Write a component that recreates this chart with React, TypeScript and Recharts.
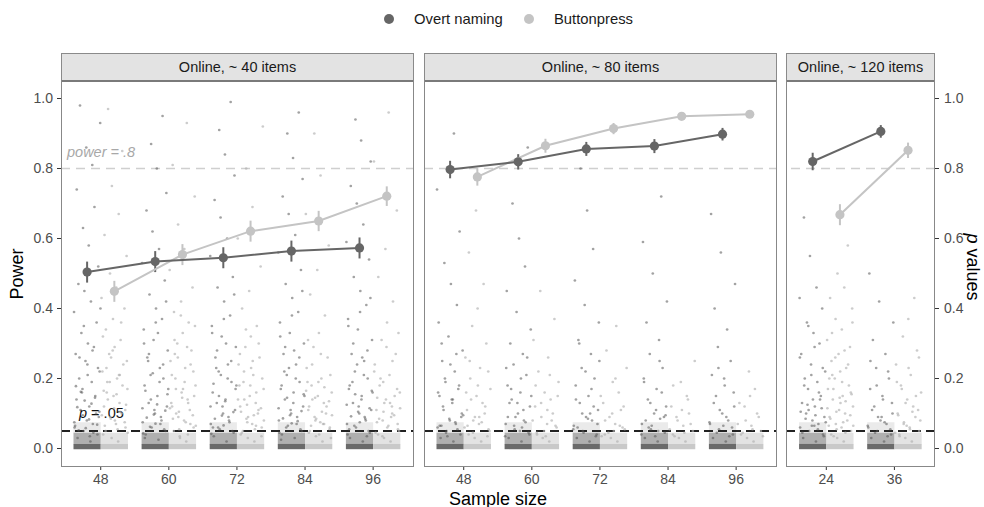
import React from 'react';
import { ComposedChart, Scatter, XAxis, YAxis, ReferenceLine, ReferenceArea, ErrorBar } from 'recharts';

// ---------- data ----------
const sizes40 = [48, 60, 72, 84, 96];
const sizes80 = [48, 60, 72, 84, 96];
const sizes120 = [24, 36];
const panelTitles = ['Online, ~ 40 items', 'Online, ~ 80 items', 'Online, ~ 120 items'];
const legendLabels = ['Overt naming', 'Buttonpress'];
const yTicks = [0, 0.2, 0.4, 0.6, 0.8, 1.0];

const powerNaming40 = [0.504, 0.534, 0.545, 0.564, 0.573];
const errNaming40 = [0.03, 0.03, 0.03, 0.03, 0.03];
const powerButton40 = [0.449, 0.554, 0.621, 0.65, 0.721];
const errButton40 = [0.03, 0.03, 0.03, 0.029, 0.028];

const powerNaming80 = [0.797, 0.819, 0.856, 0.864, 0.898];
const errNaming80 = [0.025, 0.022, 0.02, 0.02, 0.018];
const powerButton80 = [0.776, 0.865, 0.914, 0.949, 0.955];
const errButton80 = [0.025, 0.02, 0.016, 0.01, 0.008];

const powerNaming120 = [0.82, 0.906];
const errNaming120 = [0.025, 0.018];
const powerButton120 = [0.668, 0.852];
const errButton120 = [0.03, 0.022];

// hand-read p values of each jittered cloud (upper spread)
const pNaming40 = [
  [0.02, 0.03, 0.04, 0.05, 0.06, 0.07, 0.08, 0.09, 0.11, 0.12, 0.14, 0.15, 0.17, 0.19, 0.2, 0.22, 0.25, 0.27, 0.29, 0.3, 0.33, 0.36, 0.39, 0.42, 0.45, 0.47, 0.52, 0.58, 0.63, 0.69, 0.74, 0.81, 0.86, 0.93, 0.98, 0.035, 0.065, 0.1, 0.16, 0.24],
  [0.025, 0.04, 0.05, 0.06, 0.075, 0.09, 0.1, 0.12, 0.13, 0.15, 0.18, 0.2, 0.21, 0.23, 0.26, 0.28, 0.31, 0.34, 0.37, 0.4, 0.44, 0.48, 0.53, 0.57, 0.62, 0.68, 0.73, 0.8, 0.87, 0.95, 0.03, 0.07, 0.11, 0.17, 0.25, 0.33],
  [0.02, 0.035, 0.045, 0.055, 0.07, 0.08, 0.1, 0.11, 0.13, 0.14, 0.16, 0.19, 0.22, 0.24, 0.26, 0.29, 0.32, 0.35, 0.38, 0.42, 0.46, 0.49, 0.55, 0.6, 0.66, 0.71, 0.78, 0.84, 0.91, 0.99, 0.06, 0.09, 0.12, 0.18, 0.23, 0.3],
  [0.03, 0.04, 0.05, 0.065, 0.08, 0.09, 0.1, 0.12, 0.14, 0.16, 0.17, 0.19, 0.21, 0.24, 0.27, 0.3, 0.33, 0.36, 0.39, 0.43, 0.47, 0.51, 0.56, 0.61, 0.67, 0.72, 0.77, 0.83, 0.9, 0.96, 0.025, 0.07, 0.11, 0.15, 0.22, 0.28],
  [0.02, 0.03, 0.045, 0.06, 0.07, 0.085, 0.1, 0.11, 0.13, 0.15, 0.17, 0.2, 0.22, 0.25, 0.27, 0.31, 0.34, 0.37, 0.41, 0.45, 0.49, 0.54, 0.59, 0.64, 0.7, 0.75, 0.82, 0.88, 0.94, 0.035, 0.055, 0.09, 0.12, 0.16, 0.19, 0.26],
];
const pButton40 = [
  [0.02, 0.03, 0.05, 0.06, 0.07, 0.09, 0.1, 0.12, 0.13, 0.15, 0.17, 0.19, 0.2, 0.22, 0.24, 0.27, 0.29, 0.31, 0.34, 0.37, 0.4, 0.43, 0.46, 0.5, 0.55, 0.61, 0.67, 0.75, 0.85, 0.97, 0.04, 0.08, 0.11, 0.16, 0.21, 0.26],
  [0.02, 0.035, 0.05, 0.06, 0.08, 0.09, 0.11, 0.12, 0.14, 0.16, 0.18, 0.2, 0.23, 0.25, 0.28, 0.3, 0.33, 0.36, 0.39, 0.42, 0.46, 0.51, 0.57, 0.64, 0.72, 0.81, 0.93, 0.03, 0.07, 0.1, 0.13, 0.17, 0.22, 0.27],
  [0.02, 0.03, 0.045, 0.06, 0.07, 0.085, 0.1, 0.12, 0.13, 0.15, 0.17, 0.19, 0.21, 0.24, 0.26, 0.29, 0.32, 0.35, 0.4, 0.45, 0.52, 0.6, 0.69, 0.8, 0.92, 0.04, 0.055, 0.09, 0.11, 0.14, 0.18, 0.23],
  [0.02, 0.035, 0.05, 0.06, 0.075, 0.09, 0.1, 0.11, 0.13, 0.15, 0.16, 0.18, 0.2, 0.23, 0.26, 0.29, 0.33, 0.38, 0.44, 0.51, 0.58, 0.67, 0.78, 0.9, 0.03, 0.045, 0.07, 0.085, 0.12, 0.14, 0.19],
  [0.02, 0.03, 0.04, 0.055, 0.065, 0.08, 0.095, 0.11, 0.12, 0.14, 0.16, 0.18, 0.21, 0.24, 0.27, 0.31, 0.36, 0.42, 0.49, 0.57, 0.68, 0.82, 0.96, 0.035, 0.05, 0.075, 0.09, 0.13, 0.15, 0.2],
];
const pNaming80 = [
  [0.02, 0.03, 0.04, 0.05, 0.06, 0.07, 0.08, 0.1, 0.11, 0.13, 0.15, 0.17, 0.19, 0.22, 0.25, 0.28, 0.32, 0.36, 0.41, 0.47, 0.53, 0.62, 0.74, 0.9, 0.035, 0.065, 0.09, 0.14],
  [0.02, 0.03, 0.045, 0.055, 0.07, 0.08, 0.1, 0.12, 0.14, 0.16, 0.18, 0.21, 0.24, 0.27, 0.3, 0.34, 0.39, 0.45, 0.52, 0.6, 0.7, 0.86, 0.035, 0.06, 0.09, 0.13],
  [0.02, 0.03, 0.04, 0.05, 0.065, 0.08, 0.09, 0.11, 0.13, 0.15, 0.18, 0.2, 0.23, 0.27, 0.31, 0.36, 0.41, 0.48, 0.57, 0.68, 0.8, 0.035, 0.055, 0.1],
  [0.02, 0.03, 0.045, 0.055, 0.07, 0.085, 0.1, 0.12, 0.14, 0.17, 0.2, 0.23, 0.27, 0.31, 0.36, 0.42, 0.5, 0.59, 0.72, 0.035, 0.06, 0.09],
  [0.02, 0.03, 0.04, 0.055, 0.07, 0.08, 0.1, 0.12, 0.15, 0.18, 0.21, 0.25, 0.29, 0.34, 0.4, 0.47, 0.56, 0.67, 0.035, 0.065],
];
const pButton80 = [
  [0.02, 0.03, 0.04, 0.055, 0.07, 0.08, 0.1, 0.11, 0.13, 0.15, 0.17, 0.2, 0.23, 0.26, 0.3, 0.35, 0.4, 0.47, 0.56, 0.68, 0.035, 0.06, 0.09],
  [0.02, 0.03, 0.045, 0.06, 0.07, 0.09, 0.1, 0.12, 0.14, 0.16, 0.19, 0.22, 0.26, 0.31, 0.37, 0.45, 0.035, 0.08],
  [0.02, 0.03, 0.04, 0.055, 0.07, 0.09, 0.11, 0.13, 0.16, 0.19, 0.23, 0.28, 0.35, 0.035, 0.06],
  [0.02, 0.03, 0.04, 0.05, 0.065, 0.08, 0.1, 0.12, 0.15, 0.19, 0.25, 0.035],
  [0.02, 0.03, 0.04, 0.05, 0.065, 0.08, 0.1, 0.13, 0.17, 0.22, 0.035],
];
const pNaming120 = [
  [0.02, 0.03, 0.04, 0.05, 0.06, 0.07, 0.08, 0.09, 0.1, 0.12, 0.13, 0.15, 0.17, 0.19, 0.2, 0.22, 0.24, 0.27, 0.3, 0.33, 0.36, 0.4, 0.43, 0.46, 0.55, 0.66, 0.035, 0.065, 0.11, 0.14],
  [0.02, 0.03, 0.04, 0.05, 0.06, 0.07, 0.08, 0.1, 0.12, 0.14, 0.17, 0.2, 0.23, 0.27, 0.31, 0.36, 0.42, 0.5, 0.035, 0.09],
];
const pButton120 = [
  [0.02, 0.03, 0.04, 0.05, 0.06, 0.07, 0.08, 0.09, 0.1, 0.11, 0.12, 0.14, 0.15, 0.17, 0.18, 0.2, 0.22, 0.23, 0.25, 0.27, 0.29, 0.31, 0.34, 0.37, 0.4, 0.43, 0.46, 0.5, 0.58, 0.035, 0.065, 0.13, 0.16, 0.21],
  [0.02, 0.03, 0.04, 0.05, 0.06, 0.075, 0.09, 0.1, 0.12, 0.14, 0.16, 0.18, 0.21, 0.24, 0.28, 0.32, 0.37, 0.43, 0.035, 0.065, 0.11],
];

// hand-read p values of the denser lower part of each cloud
const lowNaming40 = [
  [0.045, 0.052, 0.058, 0.068, 0.075, 0.083, 0.095, 0.105, 0.118, 0.128, 0.137, 0.145, 0.162, 0.178, 0.21, 0.23, 0.26, 0.28, 0.35, 0.4],
  [0.043, 0.055, 0.062, 0.071, 0.08, 0.088, 0.097, 0.108, 0.115, 0.126, 0.14, 0.155, 0.165, 0.19, 0.215, 0.24, 0.27, 0.3, 0.36, 0.42],
  [0.042, 0.05, 0.06, 0.066, 0.075, 0.085, 0.094, 0.104, 0.12, 0.135, 0.15, 0.17, 0.185, 0.2, 0.21, 0.25, 0.28, 0.33, 0.37, 0.44],
  [0.045, 0.055, 0.06, 0.072, 0.078, 0.086, 0.095, 0.107, 0.115, 0.13, 0.145, 0.155, 0.18, 0.2, 0.23, 0.26, 0.29, 0.32, 0.38, 0.45],
  [0.04, 0.05, 0.065, 0.075, 0.08, 0.092, 0.105, 0.115, 0.125, 0.14, 0.155, 0.165, 0.18, 0.21, 0.24, 0.28, 0.3, 0.35, 0.39, 0.43],
];
const lowButton40 = [
  [0.045, 0.055, 0.065, 0.075, 0.085, 0.095, 0.105, 0.115, 0.125, 0.14, 0.155, 0.165, 0.18, 0.19, 0.21, 0.23, 0.25, 0.28, 0.32, 0.36],
  [0.04, 0.055, 0.065, 0.075, 0.085, 0.095, 0.105, 0.115, 0.13, 0.145, 0.15, 0.17, 0.19, 0.21, 0.24, 0.26, 0.29, 0.31, 0.35, 0.38],
  [0.035, 0.05, 0.065, 0.075, 0.08, 0.095, 0.105, 0.115, 0.125, 0.14, 0.16, 0.18, 0.2, 0.22, 0.25, 0.27, 0.3, 0.34],
  [0.04, 0.055, 0.065, 0.07, 0.08, 0.095, 0.105, 0.12, 0.135, 0.145, 0.165, 0.175, 0.19, 0.21, 0.24, 0.27, 0.31],
  [0.045, 0.06, 0.07, 0.085, 0.1, 0.105, 0.115, 0.13, 0.145, 0.17, 0.19, 0.22, 0.25, 0.29, 0.33],
];
const lowNaming80 = [
  [0.045, 0.055, 0.065, 0.075, 0.085, 0.095, 0.12, 0.14, 0.16, 0.18, 0.2, 0.24, 0.27, 0.3],
  [0.04, 0.05, 0.065, 0.075, 0.09, 0.11, 0.13, 0.15, 0.17, 0.2, 0.23, 0.26],
  [0.045, 0.06, 0.07, 0.085, 0.1, 0.12, 0.14, 0.17, 0.22, 0.25, 0.3],
  [0.04, 0.05, 0.065, 0.08, 0.095, 0.11, 0.13, 0.16, 0.19, 0.25],
  [0.045, 0.06, 0.075, 0.09, 0.11, 0.13, 0.16, 0.2, 0.23],
];
const lowButton80 = [
  [0.045, 0.05, 0.065, 0.075, 0.09, 0.12, 0.14, 0.16, 0.18, 0.22, 0.25],
  [0.04, 0.05, 0.065, 0.08, 0.11, 0.13, 0.15, 0.18, 0.21],
  [0.045, 0.05, 0.065, 0.08, 0.1, 0.12, 0.15, 0.2],
  [0.045, 0.055, 0.07, 0.09, 0.11, 0.14, 0.18],
  [0.045, 0.055, 0.07, 0.09, 0.12, 0.15],
];
const lowNaming120 = [
  [0.045, 0.055, 0.065, 0.075, 0.085, 0.095, 0.105, 0.115, 0.125, 0.14, 0.16, 0.18, 0.21, 0.23, 0.26, 0.29, 0.35],
  [0.045, 0.055, 0.065, 0.075, 0.09, 0.11, 0.13, 0.15, 0.18, 0.22, 0.25],
];
const lowButton120 = [
  [0.045, 0.055, 0.065, 0.075, 0.085, 0.095, 0.105, 0.115, 0.135, 0.145, 0.155, 0.17, 0.19, 0.2, 0.24, 0.26, 0.28, 0.33, 0.36],
  [0.045, 0.055, 0.07, 0.08, 0.095, 0.105, 0.13, 0.15, 0.17, 0.19, 0.23, 0.26],
];

// hand-written jitter fractions within each cloud's band
const jitterFrac = [0.62, 0.15, 0.88, 0.37, 0.04, 0.71, 0.49, 0.93, 0.26, 0.58, 0.11, 0.8, 0.33, 0.67, 0.21, 0.96, 0.44, 0.08, 0.75, 0.53, 0.29, 0.85, 0.02, 0.64, 0.4, 0.18, 0.91, 0.56, 0.35, 0.77, 0.12, 0.69, 0.47, 0.98, 0.24, 0.6, 0.06, 0.83, 0.31, 0.51, 0.73, 0.19, 0.45, 0.87, 0.03, 0.57, 0.34, 0.95, 0.14, 0.66, 0.41, 0.79, 0.27, 0.09, 0.52, 0.9, 0.22, 0.7, 0.38, 0.99];

const DODGE = 2.4;
const JW = 4.8;

// ---------- helpers ----------
const NAMING = '#666666';
const BUTTON = '#c4c4c4';
const FONT = '"Liberation Sans", Arial, Helvetica, sans-serif';

const powerData = (sizes: number[], p: number[], e: number[], off: number) =>
  sizes.map((n, i) => ({ x: n + off, y: p[i], err: e[i] }));

const cloudData = (sizes: number[], lists: number[][], lows: number[][], naming: boolean) =>
  sizes.flatMap((n, k) =>
    lists[k].concat(lows[k]).map((p, i) => {
      const f = jitterFrac[(i + (naming ? 0 : 23)) % jitterFrac.length];
      return { x: naming ? n - JW + f * JW : n + f * JW, y: p };
    })
  );

const smallDot = (fill: string, op: number) => (props: any) =>
  props.cx == null ? <g /> : <circle cx={props.cx} cy={props.cy} r={1.35} fill={fill} fillOpacity={op} />;
const bigDot = (fill: string) => (props: any) =>
  props.cx == null ? <g /> : <circle cx={props.cx} cy={props.cy} r={4.6} fill={fill} />;

const powerLabel = (props: any) => {
  const vb = props.viewBox || {};
  return (
    <text x={vb.x + 6} y={vb.y - 12} fontSize={14.5} fill="#a8a8a8" fontStyle="italic" fontFamily={FONT}>
      power = .8
    </text>
  );
};
const pLabel = (props: any) => {
  const vb = props.viewBox || {};
  return (
    <text x={vb.x + 18} y={vb.y - 13} fontSize={14.5} fill="#111" fontFamily={FONT}>
      <tspan fontStyle="italic">p</tspan> = .05
    </text>
  );
};

type PanelProps = {
  left: number;
  width: number;
  domain: [number, number];
  sizes: number[];
  pN: number[]; eN: number[]; pB: number[]; eB: number[];
  cN: number[][]; cB: number[][]; lN: number[][]; lB: number[][];
  axis: 'left' | 'right' | 'none';
  labels: boolean;
};

const PLOT_TOP = 81;
const PLOT_H = 385;
const XAX_H = 34;
const LEFT_W = 61;
const RIGHT_W = 49;

function Panel(pp: PanelProps) {
  const axW = pp.axis === 'left' ? LEFT_W : pp.axis === 'right' ? RIGHT_W : 0;
  const chartLeft = pp.axis === 'left' ? pp.left - LEFT_W : pp.left;
  const tickStyle = { fontSize: 14, fill: '#4d4d4d', fontFamily: FONT };
  return (
    <div style={{ position: 'absolute', left: chartLeft, top: PLOT_TOP }}>
      <ComposedChart width={pp.width + axW} height={PLOT_H + XAX_H} margin={{ top: 0, right: 0, bottom: 0, left: 0 }}>
        <XAxis
          type="number"
          dataKey="x"
          domain={pp.domain}
          ticks={pp.sizes}
          interval={0}
          allowDataOverflow
          axisLine={false}
          tickLine={{ stroke: '#333' }}
          tickSize={4}
          tickMargin={4}
          height={XAX_H}
          tick={tickStyle}
        />
        {pp.axis === 'none' ? (
          <YAxis type="number" dataKey="y" domain={[-0.05, 1.05]} allowDataOverflow hide />
        ) : (
          <YAxis
            type="number"
            dataKey="y"
            orientation={pp.axis}
            width={axW}
            domain={[-0.05, 1.05]}
            ticks={yTicks}
            allowDataOverflow
            tickFormatter={(v: number) => v.toFixed(1)}
            axisLine={false}
            tickLine={{ stroke: '#333' }}
            tickSize={4}
            tickMargin={pp.axis === 'left' ? 4 : 5}
            tick={tickStyle}
          />
        )}
        {pp.sizes.map((n) => (
          <ReferenceArea key={'un' + n} x1={n - JW} x2={n} y1={0.045} y2={0.075} fill="#8a8a8a" fillOpacity={0.18} stroke="none" ifOverflow="visible" />
        ))}
        {pp.sizes.map((n) => (
          <ReferenceArea key={'bn' + n} x1={n - JW} x2={n} y1={0.012} y2={0.045} fill="#7a7a7a" fillOpacity={0.6} stroke="none" ifOverflow="visible" />
        ))}
        {pp.sizes.map((n) => (
          <ReferenceArea key={'bb' + n} x1={n} x2={n + JW} y1={0.012} y2={0.045} fill="#d0d0d0" fillOpacity={0.6} stroke="none" ifOverflow="visible" />
        ))}
        {pp.sizes.map((n) => (
          <ReferenceArea key={'dn' + n} x1={n - JW} x2={n} y1={-0.002} y2={0.013} fill="#6a6a6a" fillOpacity={1} stroke="none" ifOverflow="visible" />
        ))}
        {pp.sizes.map((n) => (
          <ReferenceArea key={'db' + n} x1={n} x2={n + JW} y1={-0.002} y2={0.013} fill="#c9c9c9" fillOpacity={1} stroke="none" ifOverflow="visible" />
        ))}
        <Scatter data={cloudData(pp.sizes, pp.cN, pp.lN, true)} shape={smallDot('#555555', 0.55)} isAnimationActive={false} />
        <Scatter data={cloudData(pp.sizes, pp.cB, pp.lB, false)} shape={smallDot('#b0b0b0', 0.65)} isAnimationActive={false} />
        <ReferenceLine y={0.8} stroke="#cfcfcf" strokeWidth={1.5} strokeDasharray="9 6" label={pp.labels ? powerLabel : undefined} />
        <ReferenceLine y={0.05} stroke="#222" strokeWidth={1.8} strokeDasharray="9 5" label={pp.labels ? pLabel : undefined} />
        <Scatter
          data={powerData(pp.sizes, pp.pB, pp.eB, DODGE)}
          shape={bigDot(BUTTON)}
          line={{ stroke: BUTTON, strokeWidth: 2 }}
          lineType="joint"
          isAnimationActive={false}
        >
          <ErrorBar dataKey="err" direction="y" width={0} stroke={BUTTON} strokeWidth={2} />
        </Scatter>
        <Scatter
          data={powerData(pp.sizes, pp.pN, pp.eN, -DODGE)}
          shape={bigDot(NAMING)}
          line={{ stroke: NAMING, strokeWidth: 2 }}
          lineType="joint"
          isAnimationActive={false}
        >
          <ErrorBar dataKey="err" direction="y" width={0} stroke={NAMING} strokeWidth={2} />
        </Scatter>
      </ComposedChart>
    </div>
  );
}

const panels = [
  { left: 61, width: 353, domain: [41, 103.2] as [number, number], sizes: sizes40, pN: powerNaming40, eN: errNaming40, pB: powerButton40, eB: errButton40, cN: pNaming40, cB: pButton40, lN: lowNaming40, lB: lowButton40, axis: 'left' as const, labels: true },
  { left: 424, width: 353, domain: [41, 103.2] as [number, number], sizes: sizes80, pN: powerNaming80, eN: errNaming80, pB: powerButton80, eB: errButton80, cN: pNaming80, cB: pButton80, lN: lowNaming80, lB: lowButton80, axis: 'none' as const, labels: false },
  { left: 786, width: 149, domain: [16.9, 43.15] as [number, number], sizes: sizes120, pN: powerNaming120, eN: errNaming120, pB: powerButton120, eB: errButton120, cN: pNaming120, cB: pButton120, lN: lowNaming120, lB: lowButton120, axis: 'right' as const, labels: false },
];

export default function App() {
  return (
    <div style={{ position: 'absolute', left: 0, top: 0, width: 984, height: 507, background: '#fff', fontFamily: FONT, overflow: 'hidden' }}>
      {/* legend */}
      <div style={{ position: 'absolute', left: 384, top: 14, width: 10, height: 10, borderRadius: 5, background: NAMING }} />
      <div style={{ position: 'absolute', left: 414, top: 10, fontSize: 14.8, color: '#1a1a1a', lineHeight: '18px' }}>{legendLabels[0]}</div>
      <div style={{ position: 'absolute', left: 524, top: 14, width: 10, height: 10, borderRadius: 5, background: BUTTON }} />
      <div style={{ position: 'absolute', left: 554, top: 10, fontSize: 14.8, color: '#1a1a1a', lineHeight: '18px' }}>{legendLabels[1]}</div>

      {panels.map((p, i) => (
        <div
          key={'strip' + i}
          style={{
            position: 'absolute', left: p.left, top: 53, width: p.width, height: 29, boxSizing: 'border-box',
            background: '#e3e3e3', border: '1px solid #8a8a8a', borderBottom: '2px solid #7a7a7a',
            fontSize: 14.5, color: '#1a1a1a', textAlign: 'center', lineHeight: '26px', whiteSpace: 'nowrap',
          }}
        >
          {panelTitles[i]}
        </div>
      ))}

      {panels.map((p, i) => (
        <Panel key={'panel' + i} {...p} />
      ))}

      {panels.map((p, i) => (
        <div
          key={'border' + i}
          style={{ position: 'absolute', left: p.left, top: 80, width: p.width, height: 387, boxSizing: 'border-box', border: '1.5px solid #888', borderTop: 'none', pointerEvents: 'none' }}
        />
      ))}

      {/* axis titles */}
      <div style={{ position: 'absolute', left: 17, top: 274, transform: 'translate(-50%, -50%) rotate(-90deg)', fontSize: 18, color: '#000', whiteSpace: 'nowrap' }}>Power</div>
      <div style={{ position: 'absolute', left: 972, top: 267, transform: 'translate(-50%, -50%) rotate(90deg)', fontSize: 18, color: '#000', whiteSpace: 'nowrap' }}>
        <i>p</i> values
      </div>
      <div style={{ position: 'absolute', left: 498, top: 499, transform: 'translate(-50%, -50%)', fontSize: 18, color: '#000', whiteSpace: 'nowrap' }}>Sample size</div>
    </div>
  );
}
